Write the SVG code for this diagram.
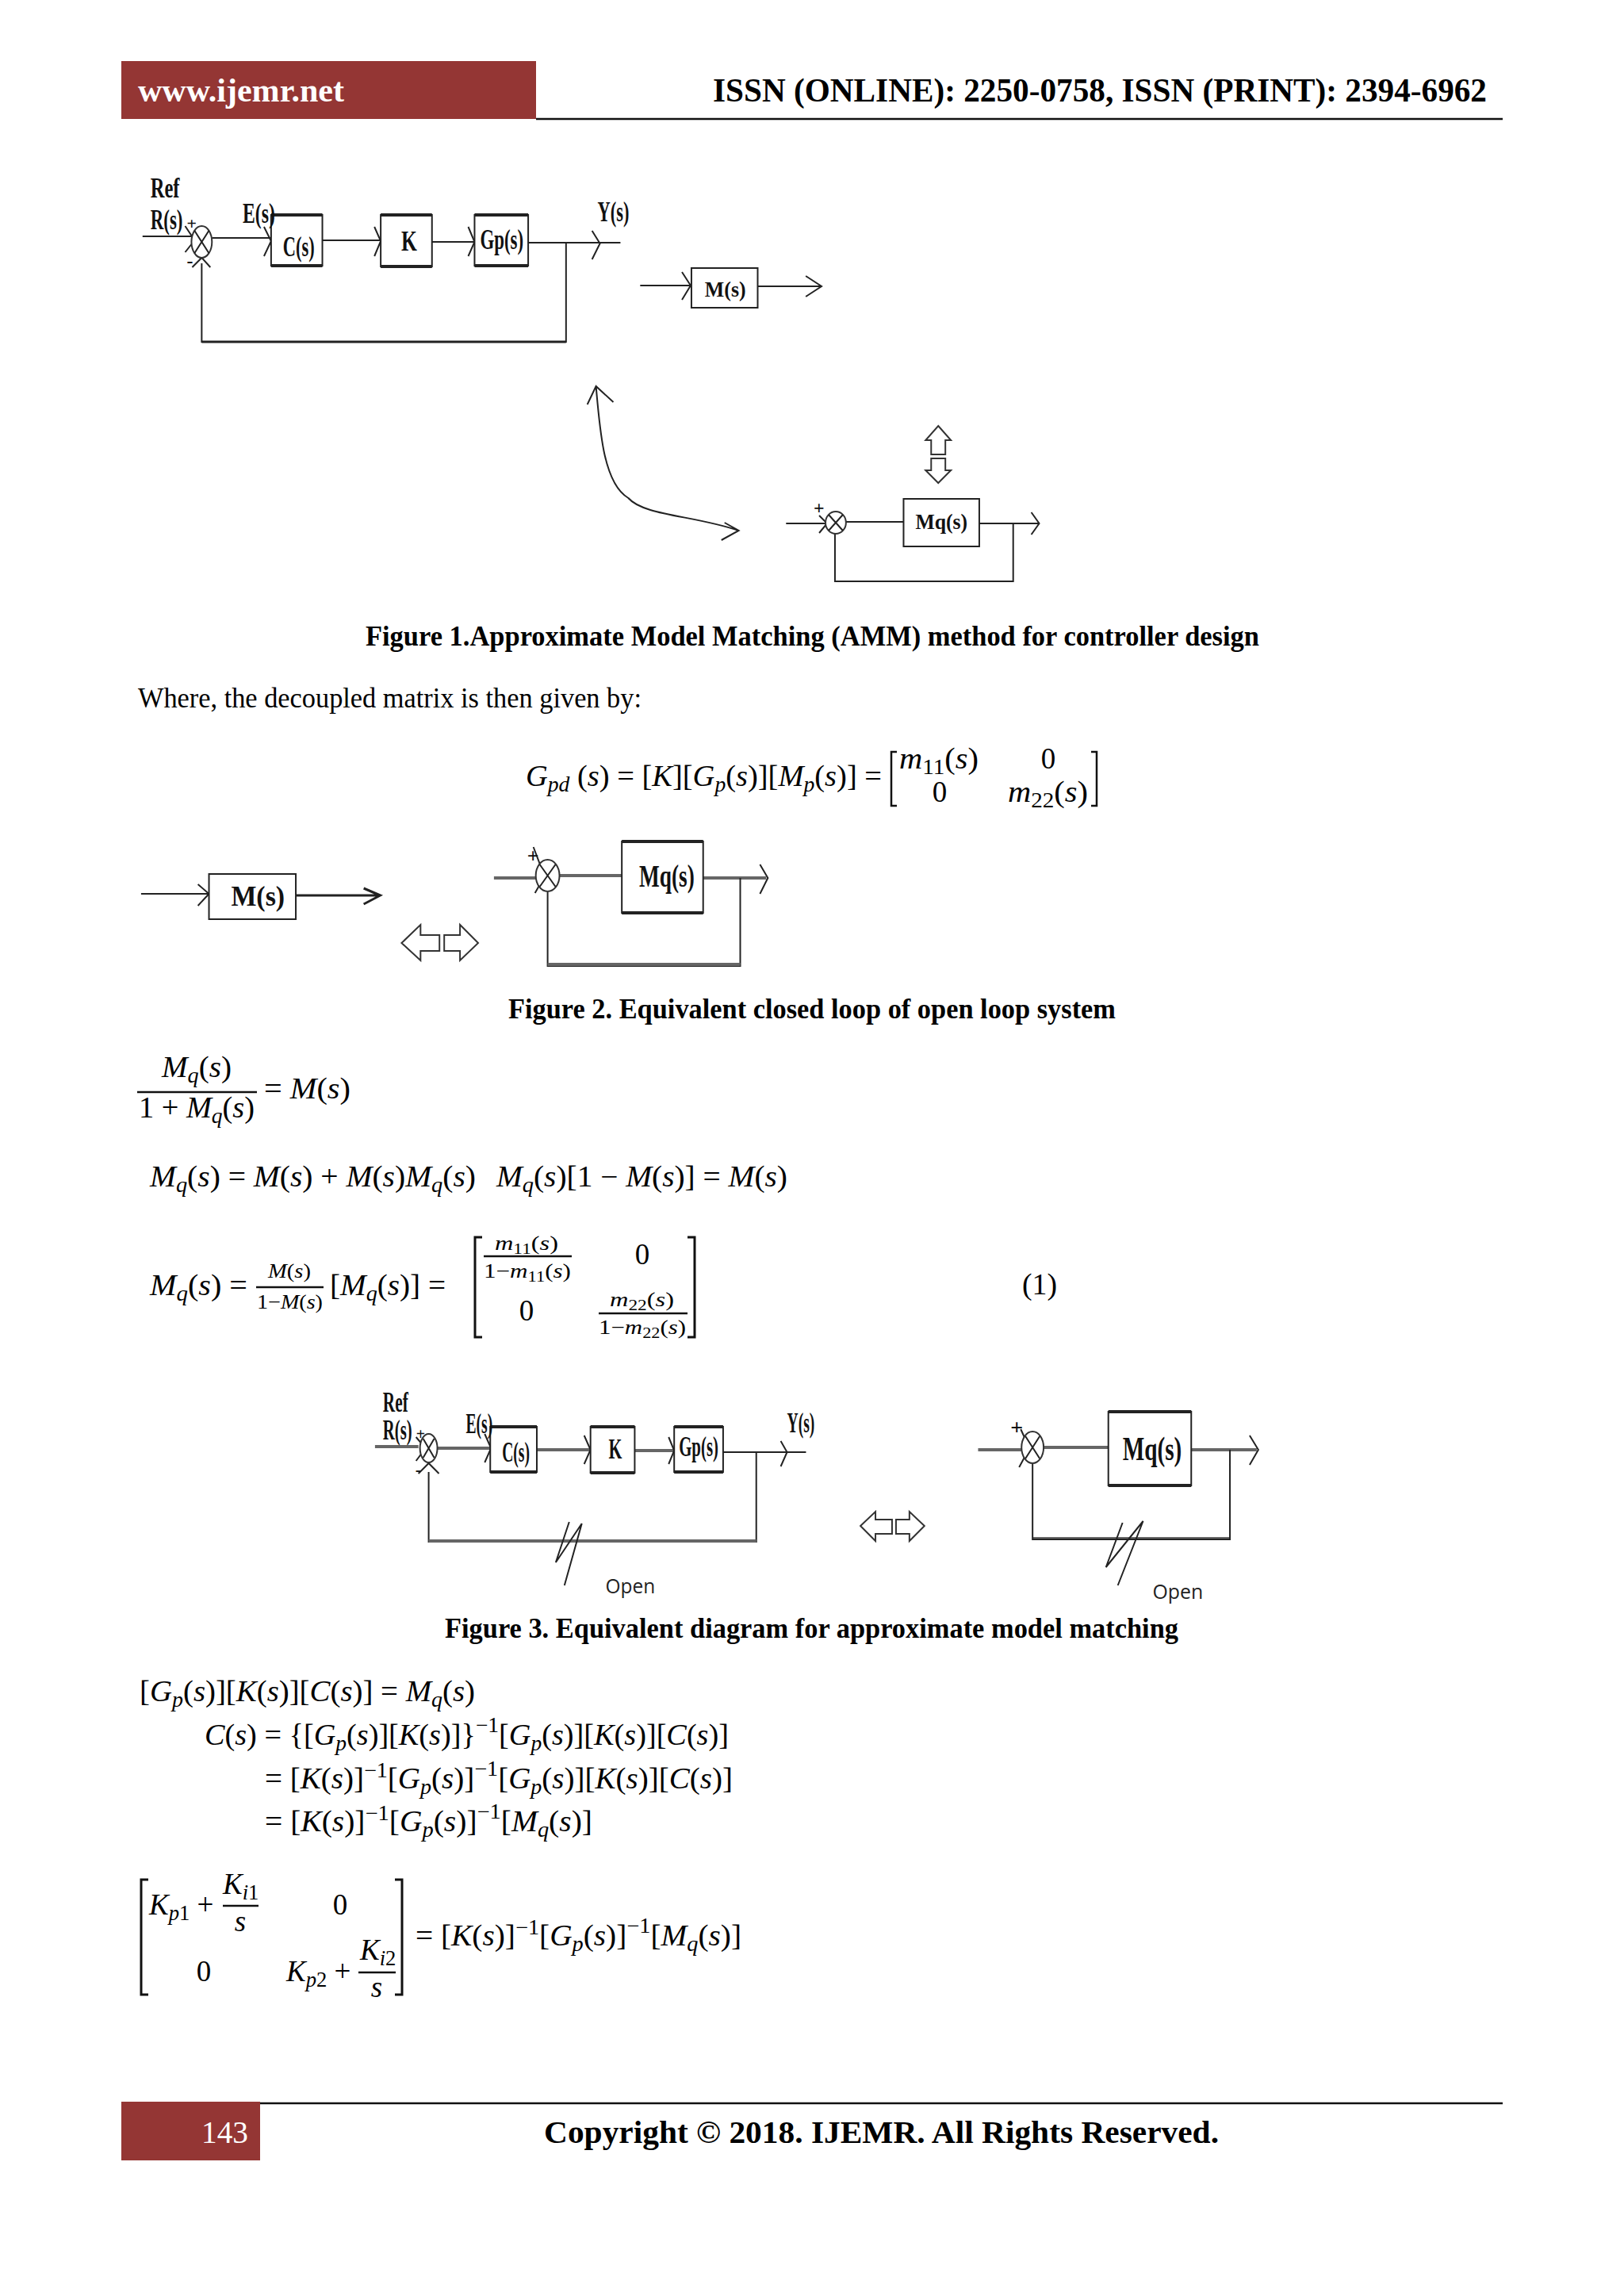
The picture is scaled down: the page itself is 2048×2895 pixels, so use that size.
<svg xmlns="http://www.w3.org/2000/svg" width="2048" height="2895" viewBox="0 0 2048 2895">
<style>
text{font-family:"Liberation Serif","Times New Roman",serif;fill:#000}
.h{font-weight:bold;font-size:42px}
.cap{font-weight:bold;font-size:35px}
.body{font-size:35px}
.lab{font-weight:bold;font-size:35px;fill:#111}
.m{font-size:37px}
.ms{font-size:27px}
.mt{font-size:25px}
.i{font-style:italic}
.sb{font-size:72%}
.open{font-family:"Open Sans","Noto Sans",sans-serif;font-size:26px;fill:#222}
.w{fill:#fff}
.ln{fill:none;stroke:#222;stroke-width:2}
.th{fill:none;stroke:#666;stroke-width:4}
.bx{fill:#fff;stroke:#222;stroke-width:2}
.top{fill:none;stroke:#222;stroke-width:4}
.sum{fill:#fff;stroke:#333;stroke-width:2}
.hol{fill:#fff;stroke:#333;stroke-width:2}
.rule{stroke:#111;stroke-width:2.5}
.br{fill:none;stroke:#111;stroke-width:2.5}
.fr{stroke:#111;stroke-width:2.5}
</style>
<rect width="2048" height="2895" fill="#fff"/>

<g id="header">
<rect x="153" y="77" width="523" height="73" fill="#943634"/>
<line class="rule" x1="676" y1="150" x2="1895" y2="150"/>
<text class="h w" x="174" y="128" textLength="260" lengthAdjust="spacingAndGlyphs">www.ijemr.net</text>
<text class="h" x="899" y="128" textLength="976" lengthAdjust="spacingAndGlyphs">ISSN (ONLINE): 2250-0758, ISSN (PRINT): 2394-6962</text>
</g>

<g id="fig1" transform="translate(0.77 0) scale(0.9945 1)">
<g id="fig1-connectors">
<path class="ln" d="M180 298H245M268 300H343M408 303H482M547 305H601M669 306H786"/>
<path class="ln" d="M717 306V431H255V332"/>
<path class="ln" style="stroke-width:3" d="M255 431H717"/>
<path class="ln" d="M334 286L343 304L334 323M474 286L482 304L474 323M593 286L601 305L593 323M750 291L760 307L750 327M234 285L246 303L234 318M243 337L255 325L266 337"/>
<path class="ln" d="M811 360H876M960 361H1041M864 343L875 360L864 378M1021 348L1041 361L1021 374"/>
<path class="ln" d="M755 487C760 545 765 610 796 628C815 650 880 650 936 669M744 510L755 487L777 507M918 659L936 669L914 681"/>
<path class="ln" d="M996 660H1047M1072 658H1145M1241 660H1317M1284 660V733H1058V671M1307 646L1317 660L1307 674M1038 650L1048 660L1038 672"/>
</g>
<g id="fig1-sum"><ellipse class="sum" cx="255" cy="305" rx="13" ry="20"/><path class="ln" d="M246 291L264 319M264 291L246 319"/></g>
<g id="fig1-c"><rect class="bx" x="343" y="271" width="65" height="64"/><path class="top" d="M343 271H408M343 335H408"/><text class="lab" x="358" y="323" textLength="40" lengthAdjust="spacingAndGlyphs">C(s)</text></g>
<g id="fig1-k"><rect class="bx" x="482" y="271" width="65" height="65"/><path class="top" d="M482 271H547M482 336H547"/><text class="lab" x="508" y="316" textLength="20" lengthAdjust="spacingAndGlyphs">K</text></g>
<g id="fig1-gp"><rect class="bx" x="601" y="271" width="68" height="64"/><path class="top" d="M601 271H669M601 335H669"/><text class="lab" x="608" y="314" textLength="55" lengthAdjust="spacingAndGlyphs">Gp(s)</text></g>
<g id="fig1-labels">
<text class="lab" x="190" y="249" textLength="37" lengthAdjust="spacingAndGlyphs">Ref</text>
<text class="lab" x="190" y="289" textLength="41" lengthAdjust="spacingAndGlyphs">R(s)</text>
<text class="lab" x="307" y="281" textLength="41" lengthAdjust="spacingAndGlyphs">E(s)</text>
<text class="lab" x="757" y="279" textLength="40" lengthAdjust="spacingAndGlyphs">Y(s)</text>
<text class="lab" x="236" y="289" style="font-size:22px">+</text>
<text class="lab" x="236" y="337" style="font-size:24px">-</text>
</g>
<g id="fig1-m"><rect class="bx" x="876" y="338" width="84" height="50"/><text class="lab" x="893" y="374" textLength="52" style="font-size:28px" lengthAdjust="spacingAndGlyphs">M(s)</text></g>
<g id="fig1-equiv"><path class="hol" d="M1189 537L1205 555H1198V573H1180V555H1173ZM1189 609L1205 593H1198V578H1180V593H1173Z"/></g>
<g id="fig1-msum"><ellipse class="sum" cx="1059" cy="659" rx="13" ry="14"/><path class="ln" d="M1050 649L1068 669M1068 649L1050 669"/><text class="lab" x="1031" y="648" style="font-size:24px">+</text></g>
<g id="fig1-mq"><rect class="bx" x="1145" y="629" width="96" height="60"/><text class="lab" x="1160" y="667" textLength="66" style="font-size:28px" lengthAdjust="spacingAndGlyphs">Mq(s)</text></g>
</g>

<text id="cap1" class="cap" x="461" y="814" textLength="1127" lengthAdjust="spacingAndGlyphs">Figure 1.Approximate Model Matching (AMM) method for controller design</text>
<text id="where" class="body" x="174" y="892" textLength="635" lengthAdjust="spacingAndGlyphs">Where, the decoupled matrix is then given by:</text>

<g id="eq-gpd">
<text class="m" x="663" y="991" textLength="449" lengthAdjust="spacingAndGlyphs"><tspan class="i">G</tspan><tspan class="i sb" dy="7">pd</tspan><tspan dy="-7"> (</tspan><tspan class="i">s</tspan>) = [<tspan class="i">K</tspan>][<tspan class="i">G</tspan><tspan class="i sb" dy="7">p</tspan><tspan dy="-7">(</tspan><tspan class="i">s</tspan>)][<tspan class="i">M</tspan><tspan class="i sb" dy="7">p</tspan><tspan dy="-7">(</tspan><tspan class="i">s</tspan>)] =</text>
<path class="br" d="M1131 948H1124V1016H1131M1376 948H1383V1016H1376"/>
<text class="m" x="1134" y="969" textLength="100" lengthAdjust="spacingAndGlyphs"><tspan class="i">m</tspan><tspan class="sb" dy="7">11</tspan><tspan dy="-7">(</tspan><tspan class="i">s</tspan>)</text>
<text class="m" x="1322" y="969" text-anchor="middle">0</text>
<text class="m" x="1185" y="1011" text-anchor="middle">0</text>
<text class="m" x="1271" y="1011" textLength="101" lengthAdjust="spacingAndGlyphs"><tspan class="i">m</tspan><tspan class="sb" dy="7">22</tspan><tspan dy="-7">(</tspan><tspan class="i">s</tspan>)</text>
</g>

<g id="fig2" transform="translate(0.72 0) scale(0.9955 1)">
<g id="fig2-connectors">
<path class="ln" d="M178 1127H264M250 1115L264 1127L250 1142"/>
<path class="ln" style="stroke-width:3" d="M374 1129H481M460 1120L481 1129L460 1140"/>
<path class="th" d="M625 1107H678M708 1104H787M890 1107H970"/>
<path class="ln" d="M962 1090L972 1107L962 1127M937 1107V1218H693V1125M675 1068L689 1105L677 1126"/>
<path class="th" d="M693 1216H937"/>
</g>
<g id="fig2-m"><rect class="bx" x="264" y="1102" width="110" height="57"/><text class="lab" x="292" y="1142" textLength="68" lengthAdjust="spacingAndGlyphs">M(s)</text></g>
<g id="fig2-equiv"><path class="hol" d="M508 1189L532 1166V1179H556V1199H532V1211ZM605 1189L582 1166V1179H562V1199H582V1211Z"/></g>
<g id="fig2-sum"><ellipse class="sum" cx="693" cy="1104" rx="15" ry="20"/><path class="ln" d="M683 1090L703 1118M703 1090L683 1118"/><text class="lab" x="667" y="1088" style="font-size:26px">+</text></g>
<g id="fig2-mq"><rect class="bx" x="787" y="1061" width="103" height="90"/><path class="top" d="M787 1061H890M787 1151H890"/><text class="lab" x="809" y="1118" textLength="70" lengthAdjust="spacingAndGlyphs" style="font-size:40px">Mq(s)</text></g>
</g>

<text id="cap2" class="cap" x="641" y="1284" textLength="766" lengthAdjust="spacingAndGlyphs">Figure 2. Equivalent closed loop of open loop system</text>

<g id="eq-frac">
<text class="m" x="204" y="1358" textLength="88" lengthAdjust="spacingAndGlyphs"><tspan class="i">M</tspan><tspan class="i sb" dy="7">q</tspan><tspan dy="-7">(</tspan><tspan class="i">s</tspan>)</text>
<line class="fr" x1="173" y1="1377" x2="324" y2="1377"/>
<text class="m" x="175" y="1409" textLength="146" lengthAdjust="spacingAndGlyphs">1 + <tspan class="i">M</tspan><tspan class="i sb" dy="7">q</tspan><tspan dy="-7">(</tspan><tspan class="i">s</tspan>)</text>
<text class="m" x="333" y="1385" textLength="109" lengthAdjust="spacingAndGlyphs">= <tspan class="i">M</tspan>(<tspan class="i">s</tspan>)</text>
</g>
<g id="eq-line2">
<text class="m" x="189" y="1496" textLength="411" lengthAdjust="spacingAndGlyphs"><tspan class="i">M</tspan><tspan class="i sb" dy="7">q</tspan><tspan dy="-7">(</tspan><tspan class="i">s</tspan>) = <tspan class="i">M</tspan>(<tspan class="i">s</tspan>) + <tspan class="i">M</tspan>(<tspan class="i">s</tspan>)<tspan class="i">M</tspan><tspan class="i sb" dy="7">q</tspan><tspan dy="-7">(</tspan><tspan class="i">s</tspan>)</text>
<text class="m" x="626" y="1496" textLength="367" lengthAdjust="spacingAndGlyphs"><tspan class="i">M</tspan><tspan class="i sb" dy="7">q</tspan><tspan dy="-7">(</tspan><tspan class="i">s</tspan>)[1 − <tspan class="i">M</tspan>(<tspan class="i">s</tspan>)] = <tspan class="i">M</tspan>(<tspan class="i">s</tspan>)</text>
</g>
<g id="eq-mq">
<text class="m" x="189" y="1633" textLength="123" lengthAdjust="spacingAndGlyphs"><tspan class="i">M</tspan><tspan class="i sb" dy="7">q</tspan><tspan dy="-7">(</tspan><tspan class="i">s</tspan>) =</text>
<text class="mt" x="338" y="1611" textLength="54" lengthAdjust="spacingAndGlyphs"><tspan class="i">M</tspan>(<tspan class="i">s</tspan>)</text>
<line class="fr" x1="323" y1="1623" x2="408" y2="1623"/>
<text class="mt" x="324" y="1650" textLength="83" lengthAdjust="spacingAndGlyphs">1−<tspan class="i">M</tspan>(<tspan class="i">s</tspan>)</text>
<text class="m" x="416" y="1633" textLength="146" lengthAdjust="spacingAndGlyphs">[<tspan class="i">M</tspan><tspan class="i sb" dy="7">q</tspan><tspan dy="-7">(</tspan><tspan class="i">s</tspan>)] =</text>
<path class="br" style="stroke-width:3" d="M608 1560H599V1686H608M867 1560H876V1686H867"/>
<text class="mt" x="624" y="1576" textLength="80" lengthAdjust="spacingAndGlyphs"><tspan class="i">m</tspan><tspan class="sb" dy="5">11</tspan><tspan dy="-5">(</tspan><tspan class="i">s</tspan>)</text>
<line class="fr" x1="610" y1="1584" x2="721" y2="1584"/>
<text class="mt" x="610" y="1611" textLength="110" lengthAdjust="spacingAndGlyphs">1−<tspan class="i">m</tspan><tspan class="sb" dy="5">11</tspan><tspan dy="-5">(</tspan><tspan class="i">s</tspan>)</text>
<text class="m" x="810" y="1594" text-anchor="middle">0</text>
<text class="m" x="664" y="1665" text-anchor="middle">0</text>
<text class="mt" x="769" y="1647" textLength="81" lengthAdjust="spacingAndGlyphs"><tspan class="i">m</tspan><tspan class="sb" dy="5">22</tspan><tspan dy="-5">(</tspan><tspan class="i">s</tspan>)</text>
<line class="fr" x1="755" y1="1656" x2="867" y2="1656"/>
<text class="mt" x="755" y="1682" textLength="110" lengthAdjust="spacingAndGlyphs">1−<tspan class="i">m</tspan><tspan class="sb" dy="5">22</tspan><tspan dy="-5">(</tspan><tspan class="i">s</tspan>)</text>
<text class="m" x="1289" y="1632" textLength="44" lengthAdjust="spacingAndGlyphs">(1)</text>
</g>

<g id="fig3" transform="translate(2.03 0) scale(0.9955 1)">
<g id="fig3-connectors">
<path class="th" d="M473 1824H528M552 1826H620M678 1828H746M802 1829H852"/>
<path class="ln" d="M914 1831H1019M956 1831V1944H541V1856"/>
<path class="th" d="M541 1943H956"/>
<path class="ln" d="M612 1808L620 1826L612 1844M738 1810L746 1828L738 1846M845 1812L852 1829L845 1846M987 1817L995 1831L987 1849M525 1812L537 1826L525 1842M528 1858L541 1845L554 1858"/>
<path class="ln" d="M719 1919L702 1970L735 1921L713 1999"/>
<path class="th" d="M1237 1828H1293M1320 1825H1402M1507 1828H1590M1306 1940H1556"/>
<path class="ln" d="M1581 1810L1592 1828L1581 1847M1556 1828V1941H1306V1846M1291 1802L1302 1826L1289 1850M1420 1920L1399 1976L1446 1918L1414 1999"/>
</g>
<g id="fig3-sum"><ellipse class="sum" cx="541" cy="1826" rx="11" ry="18"/><path class="ln" d="M534 1814L548 1838M548 1814L534 1838"/></g>
<g id="fig3-c"><rect class="bx" x="619" y="1799" width="59" height="57"/><path class="top" d="M619 1799H678M619 1856H678"/><text class="lab" x="634" y="1843" textLength="35" lengthAdjust="spacingAndGlyphs">C(s)</text></g>
<g id="fig3-k"><rect class="bx" x="746" y="1799" width="56" height="58"/><path class="top" d="M746 1799H802M746 1857H802"/><text class="lab" x="769" y="1839" textLength="17" lengthAdjust="spacingAndGlyphs">K</text></g>
<g id="fig3-gp"><rect class="bx" x="852" y="1799" width="62" height="57"/><path class="top" d="M852 1799H914M852 1856H914"/><text class="lab" x="858" y="1836" textLength="50" lengthAdjust="spacingAndGlyphs">Gp(s)</text></g>
<g id="fig3-labels">
<text class="lab" x="483" y="1780" textLength="32" lengthAdjust="spacingAndGlyphs">Ref</text>
<text class="lab" x="483" y="1815" textLength="37" lengthAdjust="spacingAndGlyphs">R(s)</text>
<text class="lab" x="588" y="1807" textLength="34" lengthAdjust="spacingAndGlyphs">E(s)</text>
<text class="lab" x="995" y="1806" textLength="35" lengthAdjust="spacingAndGlyphs">Y(s)</text>
<text class="lab" x="525" y="1815" style="font-size:20px">+</text>
<text class="lab" x="524" y="1860" style="font-size:22px">-</text>
<text class="open" x="765" y="2009" textLength="63" lengthAdjust="spacingAndGlyphs">Open</text>
</g>
<g id="fig3-equiv"><path class="hol" d="M1088 1924L1107 1906V1916H1128V1934H1107V1943ZM1169 1924L1150 1906V1916H1133V1934H1150V1943Z"/></g>
<g id="fig3-sum2"><ellipse class="sum" cx="1306" cy="1825" rx="14" ry="20"/><path class="ln" d="M1297 1811L1315 1839M1315 1811L1297 1839"/><text class="lab" x="1278" y="1809" style="font-size:28px">+</text></g>
<g id="fig3-mq"><rect class="bx" x="1402" y="1780" width="105" height="93"/><path class="top" d="M1402 1780H1507M1402 1873H1507"/><text class="lab" x="1420" y="1841" textLength="75" lengthAdjust="spacingAndGlyphs" style="font-size:42px">Mq(s)</text></g>
<text class="open" id="open2" x="1458" y="2016" textLength="64" lengthAdjust="spacingAndGlyphs">Open</text>
</g>

<text id="cap3" class="cap" x="561" y="2065" textLength="925" lengthAdjust="spacingAndGlyphs">Figure 3. Equivalent diagram for approximate model matching</text>

<g id="eq-c">
<text class="m" x="176" y="2145" textLength="423" lengthAdjust="spacingAndGlyphs">[<tspan class="i">G</tspan><tspan class="i sb" dy="7">p</tspan><tspan dy="-7">(</tspan><tspan class="i">s</tspan>)][<tspan class="i">K</tspan>(<tspan class="i">s</tspan>)][<tspan class="i">C</tspan>(<tspan class="i">s</tspan>)] = <tspan class="i">M</tspan><tspan class="i sb" dy="7">q</tspan><tspan dy="-7">(</tspan><tspan class="i">s</tspan>)</text>
<text class="m" x="258" y="2200" textLength="661" lengthAdjust="spacingAndGlyphs"><tspan class="i">C</tspan>(<tspan class="i">s</tspan>) = {[<tspan class="i">G</tspan><tspan class="i sb" dy="7">p</tspan><tspan dy="-7">(</tspan><tspan class="i">s</tspan>)][<tspan class="i">K</tspan>(<tspan class="i">s</tspan>)]}<tspan class="sb" dy="-16">−1</tspan><tspan dy="16">[</tspan><tspan class="i">G</tspan><tspan class="i sb" dy="7">p</tspan><tspan dy="-7">(</tspan><tspan class="i">s</tspan>)][<tspan class="i">K</tspan>(<tspan class="i">s</tspan>)][<tspan class="i">C</tspan>(<tspan class="i">s</tspan>)]</text>
<text class="m" x="334" y="2255" textLength="590" lengthAdjust="spacingAndGlyphs">= [<tspan class="i">K</tspan>(<tspan class="i">s</tspan>)]<tspan class="sb" dy="-14">−1</tspan><tspan dy="14">[</tspan><tspan class="i">G</tspan><tspan class="i sb" dy="7">p</tspan><tspan dy="-7">(</tspan><tspan class="i">s</tspan>)]<tspan class="sb" dy="-16">−1</tspan><tspan dy="16">[</tspan><tspan class="i">G</tspan><tspan class="i sb" dy="7">p</tspan><tspan dy="-7">(</tspan><tspan class="i">s</tspan>)][<tspan class="i">K</tspan>(<tspan class="i">s</tspan>)][<tspan class="i">C</tspan>(<tspan class="i">s</tspan>)]</text>
<text class="m" x="334" y="2309" textLength="413" lengthAdjust="spacingAndGlyphs">= [<tspan class="i">K</tspan>(<tspan class="i">s</tspan>)]<tspan class="sb" dy="-14">−1</tspan><tspan dy="14">[</tspan><tspan class="i">G</tspan><tspan class="i sb" dy="7">p</tspan><tspan dy="-7">(</tspan><tspan class="i">s</tspan>)]<tspan class="sb" dy="-16">−1</tspan><tspan dy="16">[</tspan><tspan class="i">M</tspan><tspan class="i sb" dy="7">q</tspan><tspan dy="-7">(</tspan><tspan class="i">s</tspan>)]</text>
</g>
<g id="eq-k">
<path class="br" style="stroke-width:3" d="M187 2370H178V2515H187M498 2370H507V2515H498"/>
<text class="m" x="188" y="2414"><tspan class="i">K</tspan><tspan class="i sb" dy="7">p</tspan><tspan class="sb">1</tspan><tspan dy="-7"> +</tspan></text>
<text class="m" x="281" y="2388"><tspan class="i">K</tspan><tspan class="i sb" dy="7">i</tspan><tspan class="sb">1</tspan></text>
<line class="fr" x1="281" y1="2403" x2="326" y2="2403"/>
<text class="m i" x="303" y="2435" text-anchor="middle">s</text>
<text class="m" x="429" y="2414" text-anchor="middle">0</text>
<text class="m" x="257" y="2498" text-anchor="middle">0</text>
<text class="m" x="361" y="2498"><tspan class="i">K</tspan><tspan class="i sb" dy="7">p</tspan><tspan class="sb">2</tspan><tspan dy="-7"> +</tspan></text>
<text class="m" x="454" y="2471"><tspan class="i">K</tspan><tspan class="i sb" dy="7">i</tspan><tspan class="sb">2</tspan></text>
<line class="fr" x1="452" y1="2487" x2="499" y2="2487"/>
<text class="m i" x="475" y="2518" text-anchor="middle">s</text>
<text class="m" x="524" y="2453" textLength="411" lengthAdjust="spacingAndGlyphs">= [<tspan class="i">K</tspan>(<tspan class="i">s</tspan>)]<tspan class="sb" dy="-14">−1</tspan><tspan dy="14">[</tspan><tspan class="i">G</tspan><tspan class="i sb" dy="7">p</tspan><tspan dy="-7">(</tspan><tspan class="i">s</tspan>)]<tspan class="sb" dy="-16">−1</tspan><tspan dy="16">[</tspan><tspan class="i">M</tspan><tspan class="i sb" dy="7">q</tspan><tspan dy="-7">(</tspan><tspan class="i">s</tspan>)]</text>
</g>

<g id="footer">
<rect x="153" y="2650" width="175" height="74" fill="#943634"/>
<line class="rule" x1="328" y1="2652" x2="1895" y2="2652"/>
<text class="w" x="254" y="2702" textLength="59" lengthAdjust="spacingAndGlyphs" style="font-size:40px">143</text>
<text class="h" x="686" y="2702" textLength="851" lengthAdjust="spacingAndGlyphs" style="font-size:40px">Copyright © 2018. IJEMR. All Rights Reserved.</text>
</g>
</svg>
